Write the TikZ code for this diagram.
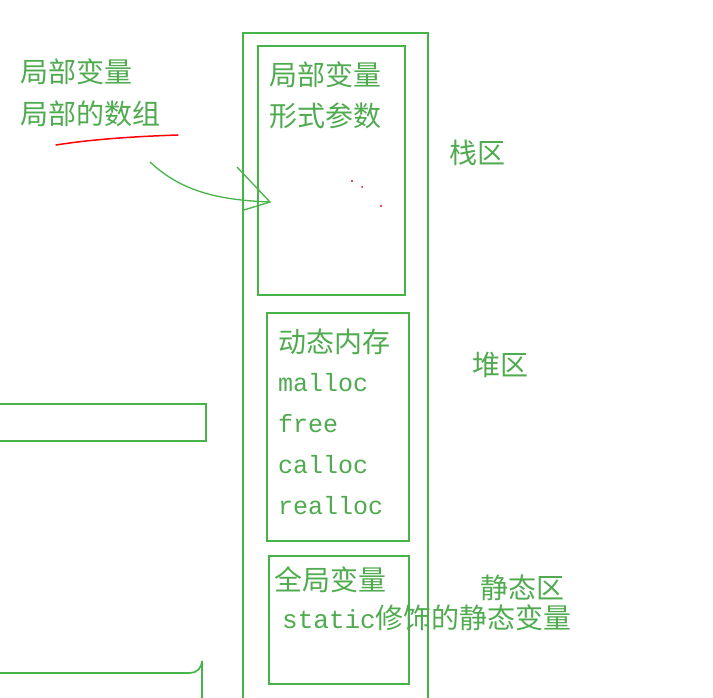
\documentclass[tikz,border=0pt]{standalone}
\usepackage{fontspec}
\newfontfamily\cjk{Noto Sans CJK SC}
\newfontfamily\mono{Liberation Mono}
\begin{document}
\begin{tikzpicture}[x=1pt,y=-1pt,
  box/.style={draw=boxgreen,line width=1.6pt},
  cn/.style={anchor=west,inner sep=0pt,text=txtgreen,font=\cjk\fontsize{28}{30}\selectfont},
  mn/.style={anchor=west,inner sep=0pt,text=txtgreen,font=\mono\fontsize{25}{27}\selectfont}]
\definecolor{boxgreen}{RGB}{70,180,70}
\definecolor{txtgreen}{RGB}{80,170,80}
\useasboundingbox (0,0) rectangle (713,698);
\fill[white] (0,0) rectangle (713,698);
% boxes
\draw[box] (243,700) -- (243,33) -- (428,33) -- (428,700);
\node[box,minimum width=147,minimum height=249,inner sep=0,anchor=north west] (stack) at (257,45) {};
\node[box,minimum width=142,minimum height=228,inner sep=0,anchor=north west] (heap) at (266,312) {};
\node[box,minimum width=140,minimum height=128,inner sep=0,anchor=north west] (static) at (268,555) {};
\draw[box] (-2,404) rectangle (206,441);
\draw[box] (-2,700) -- (-2,673) -- (190,673) arc[start angle=90,end angle=0,radius=12] -- (202,700);
% texts
\node[cn] (l1) at (20,72) {局部变量};
\node[cn] (l2) at (20,114) {局部的数组};
\draw[red,line width=1.5pt,line cap=round] (56,145) .. controls (100,138) and (150,136) .. (178,135);
\coordinate (as) at (150,162);
\coordinate (ae) at (270,202);
\draw[boxgreen,line width=1.3pt] (as) .. controls (180,190) and (215,200) .. (ae);
\draw[boxgreen,line width=1.3pt] (237,167) -- (270,202) -- (244,210);
\node[cn] (s1) at (269,75) {局部变量};
\node[cn] (s2) at (269,116) {形式参数};
\fill[red] (352,181) circle (1.2) (362,187) circle (1) (381,206) circle (1.2);
\node[cn] (z1) at (449,153) {栈区};
\node[cn] (z2) at (472,365) {堆区};
\node[cn] (z3) at (480,588) {静态区};
\node[cn] (h0) at (278,342) {动态内存};
\node[mn] (h1) at (278,383) {malloc};
\node[mn] (h2) at (278,424) {free};
\node[mn] (h3) at (278,465) {calloc};
\node[mn] (h4) at (278,506) {realloc};
\node[cn] (g1) at (274,580) {全局变量};
\node[anchor=west,inner sep=0pt,text=txtgreen] (g2) at (282,618) {{\mono\fontsize{26}{28}\selectfont static}{\cjk\fontsize{28}{30}\selectfont 修饰的静态变量}};
\end{tikzpicture}
\end{document}
